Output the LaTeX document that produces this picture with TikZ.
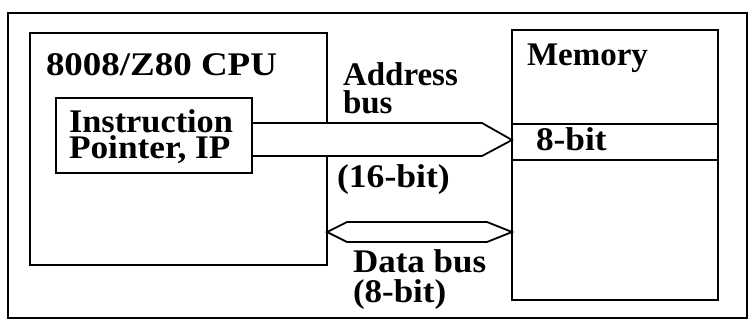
\documentclass[tikz,border=0pt]{standalone}
\usepackage{fontspec}
\setmainfont{Liberation Serif}
\newcommand{\wx}[2]{\scalebox{#1}[1]{#2}}
\begin{document}
\begin{tikzpicture}[x=1pt,y=-1pt,
  txt/.style={font=\fontsize{33}{26}\selectfont\bfseries, anchor=base west, inner sep=0pt, outer sep=0pt, align=left},
  box/.style={draw, line width=1.8pt, inner sep=0pt, outer sep=0pt, anchor=north west},
  bus/.style={draw, line width=1.8pt, fill=white, line join=miter}]
\useasboundingbox (0,0) rectangle (751,330);
% outer frame
\node[box, line width=1.4pt, minimum width=739pt, minimum height=305pt] (frame) at (8,13) {};
% CPU box
\node[box, minimum width=297pt, minimum height=232pt] (cpu) at (30,33) {};
% Memory box
\node[box, minimum width=206pt, minimum height=270pt] (mem) at (512,30) {};
% IP box
\node[box, minimum width=196pt, minimum height=75pt] (ip) at (56,98) {};
% address bus (one-headed, from IP to memory)
\coordinate (atip) at (mem.west |- 0,140);
\path[bus] (ip.east |- 0,123) -- (482,123) -- (atip) -- (482,156) -- (ip.east |- 0,156);
\draw[line width=1.8pt] (ip.north east) -- (ip.south east);
% data bus (two-headed)
\coordinate (dl) at (cpu.east |- 0,232);
\coordinate (dr) at (mem.west |- 0,232);
\path[bus] (dl) -- (347,222) -- (487,222) -- (dr) -- (487,242) -- (347,242) -- cycle;
% memory row
\draw[line width=1.8pt] (mem.west |- 0,124) -- (mem.east |- 0,124);
\draw[line width=1.8pt] (mem.west |- 0,160) -- (mem.east |- 0,160);
% texts (multi-line nodes are placed at the baseline of their last line)
\node[txt] (tcpu) at (46,75) {\wx{1.12}{8008/Z80 CPU}};
\node[txt] (tip) at (69,158) {\wx{1.04}{Instruction}\\\wx{1.07}{Pointer, IP}};
\node[txt, font=\fontsize{33}{28}\selectfont\bfseries] (tad) at (343,113) {Address\\bus};
\node[txt] (tad3) at (337,187) {\wx{1.08}{(16-bit)}};
\node[txt] (tmem) at (527,65) {Memory};
\node[txt] (tcell) at (536,150) {\wx{1.07}{8-bit}};
\node[txt, font=\fontsize{33}{30}\selectfont\bfseries] (tdb) at (353,302) {\wx{1.06}{Data bus}\\\wx{1.06}{(8-bit)}};
\end{tikzpicture}
\end{document}
